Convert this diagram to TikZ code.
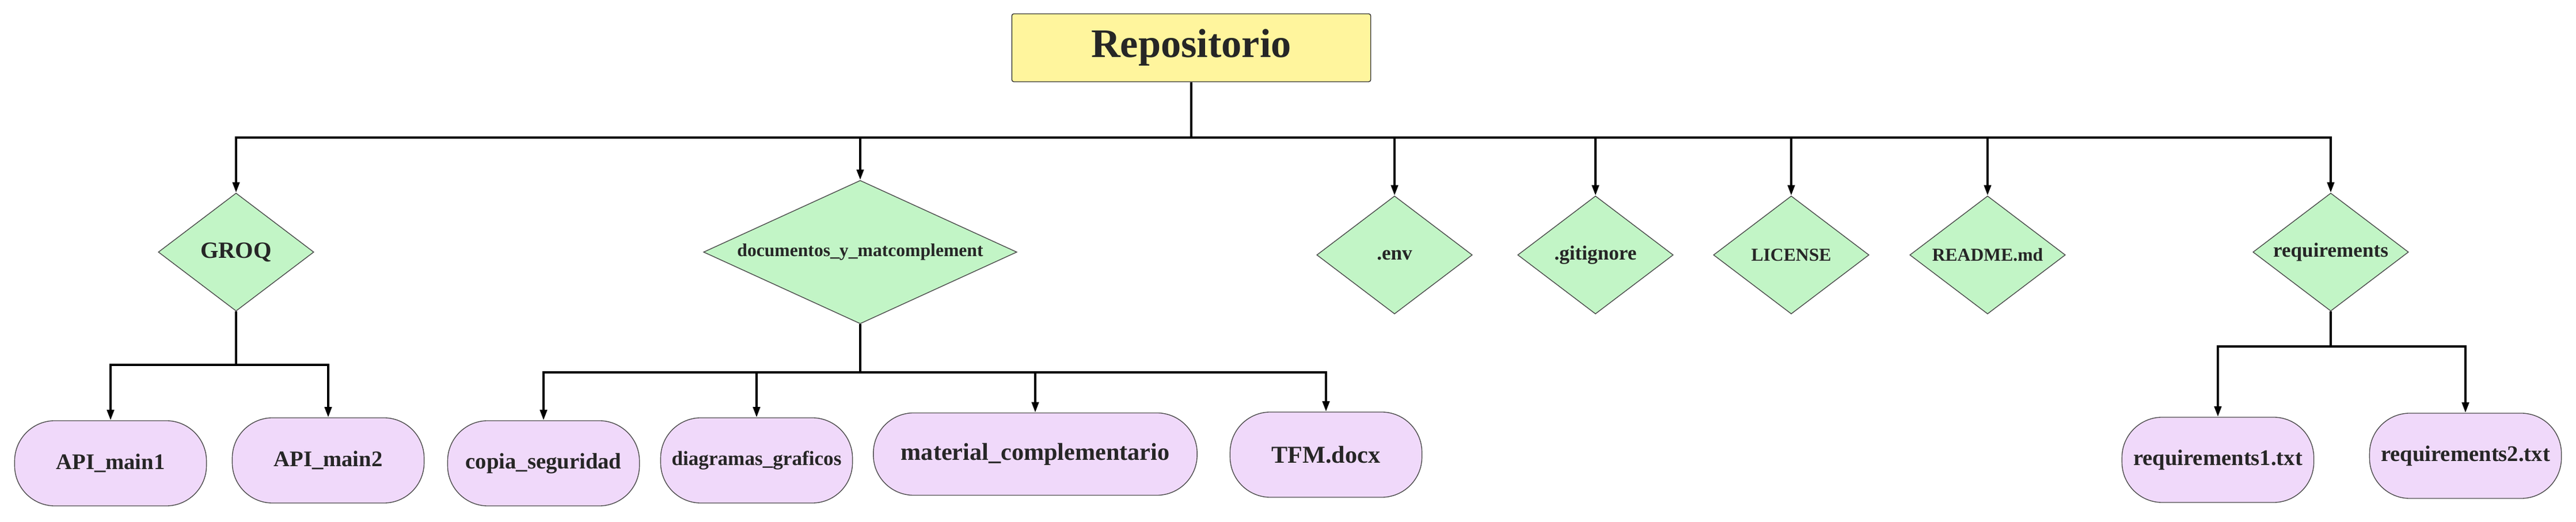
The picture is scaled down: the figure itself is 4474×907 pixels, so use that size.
\documentclass[tikz,border=0pt]{standalone}
\usepackage{fontspec}
\setmainfont{Liberation Serif}
\usetikzlibrary{positioning}
\usetikzlibrary{shapes.geometric, arrows.meta}
\definecolor{rootfill}{HTML}{FFF59D}
\definecolor{folderfill}{HTML}{C2F5C6}
\definecolor{filefill}{HTML}{F0D9FA}
\begin{document}
\begin{tikzpicture}[x=0.01cm, y=-0.01cm,
			root/.style = {
				draw=black!80, fill=rootfill, rounded corners=1pt,
				minimum width=6.23cm, minimum height=1.18cm,
				text=black!85, font=\fontsize{20}{24}\selectfont\bfseries
			},
			folder/.style = {
				diamond, aspect=1.32, draw=black!70, fill=folderfill, inner sep=0pt,
				minimum width=2.7cm, minimum height=2.05cm,
				text=black!85, font=\fontsize{10}{12}\selectfont\bfseries
			},
			file/.style = {
				draw=black!70, fill=filefill, rounded corners=7mm,
				minimum width=3.33cm, minimum height=1.48cm,
				text=black!85, font=\fontsize{11}{13}\selectfont\bfseries
			},
			stem/.style = {line width=1.1pt},
			link/.style = {line width=1.1pt, -{Triangle[length=1.8mm,width=1.2mm]}}]
			\useasboundingbox (0,0) rectangle (4474,907);
			% root
			\node (repo) [root] at (2069,83) {Repositorio};
			% folders and top-level files
			\node (groq) [folder, font=\fontsize{11.5}{13}\selectfont\bfseries] at (410,438) {GROQ};
			\node (docs) [folder, aspect=2.18, minimum width=5.44cm, minimum height=2.49cm,
			font=\fontsize{9}{11}\selectfont\bfseries] at (1494,438) {documentos\_y\_matcomplement};
			\node (env) [folder] at (2422,443) {.env};
			\node (gitignore) [folder] at (2771,443) {.gitignore};
			\node (license) [folder, font=\fontsize{9}{11}\selectfont\bfseries] at (3111,443) {LICENSE};
			\node (readme) [folder, font=\fontsize{9}{11}\selectfont\bfseries] at (3452,443) {README.md};
			\node (req) [folder] at (4048,438) {requirements};
			% files
			\node (api1) [file] at (192,805) {API\_main1};
			\node (api2) [file] at (570,800) {API\_main2};
			\node (copia) [file] at (944,805) {copia\_seguridad};
			\node (diagramas) [file, font=\fontsize{10}{12}\selectfont\bfseries] at (1314,800) {diagramas\_graficos};
			\node (material) [file, minimum width=5.62cm, minimum height=1.43cm,
			font=\fontsize{12}{14}\selectfont\bfseries] at (1798,789) {material\_complementario};
			\node (tfm) [file, font=\fontsize{12}{14}\selectfont\bfseries] at (2303,790) {TFM.docx};
			\node (req1) [file] at (3852,799) {requirements1.txt};
			\node (req2) [file] at (4282,792) {requirements2.txt};
			% bus points
			\coordinate (hub) at (2069,239);
			\coordinate (groqhub) at (410,634);
			\coordinate (docshub) at (1494,647);
			\coordinate (reqhub) at (4048,602);
			\draw [stem] (repo) -- (hub);
			\draw [stem] (groq) -- (groqhub);
			\draw [stem] (docs) -- (docshub);
			\draw [stem] (req) -- (reqhub);
			\foreach \child in {groq, docs, env, gitignore, license, readme, req}
			\draw [link] (hub) -| (\child);
			\foreach \child in {api1, api2}
			\draw [link] (groqhub) -| (\child);
			\foreach \child in {copia, diagramas, material, tfm}
			\draw [link] (docshub) -| (\child);
			\foreach \child in {req1, req2}
			\draw [link] (reqhub) -| (\child);
		\end{tikzpicture}
\end{document}
